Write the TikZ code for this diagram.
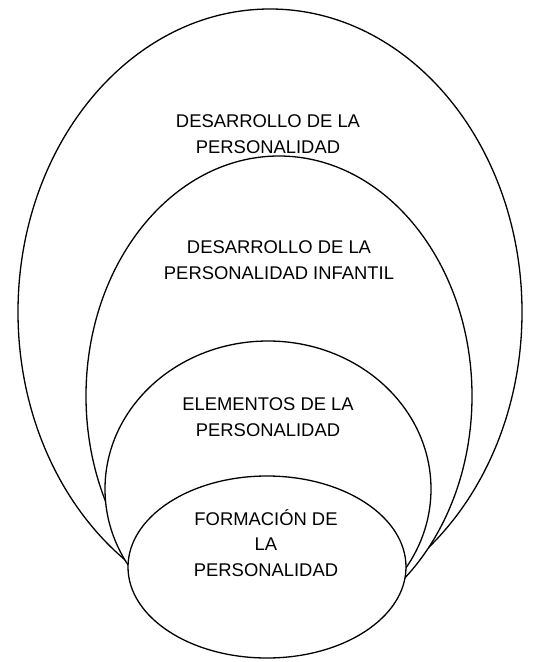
\documentclass[tikz,border=0pt]{standalone}
\usepackage{fontspec}
\setmainfont{Liberation Sans}
\begin{document}
\begin{tikzpicture}[x=1pt,y=-1pt,
  ring/.style={draw=black,fill=white,line width=1.3pt},
  lbl/.style={align=center,inner sep=0pt,font=\fontsize{18.4}{25.6}\selectfont}]
\useasboundingbox[fill=white] (0,0) rectangle (533,662);
% ellipses, outer to inner
\path[ring] (270,312) ellipse [x radius=252, y radius=303];
\path[ring] (279,396) ellipse [x radius=193, y radius=240];
\path[ring] (268,489) ellipse [x radius=163, y radius=148];
\path[ring] (267,567) ellipse [x radius=139, y radius=91];
% labels
\node[lbl] (t1) at (268,134) {DESARROLLO DE LA\\PERSONALIDAD};
\node[lbl] (t2) at (279,260) {DESARROLLO DE LA\\PERSONALIDAD INFANTIL};
\node[lbl] (t3) at (268,417) {ELEMENTOS DE LA\\PERSONALIDAD};
\node[lbl] (t4) at (266,543) {FORMACIÓN DE\\LA\\PERSONALIDAD};
\end{tikzpicture}
\end{document}
